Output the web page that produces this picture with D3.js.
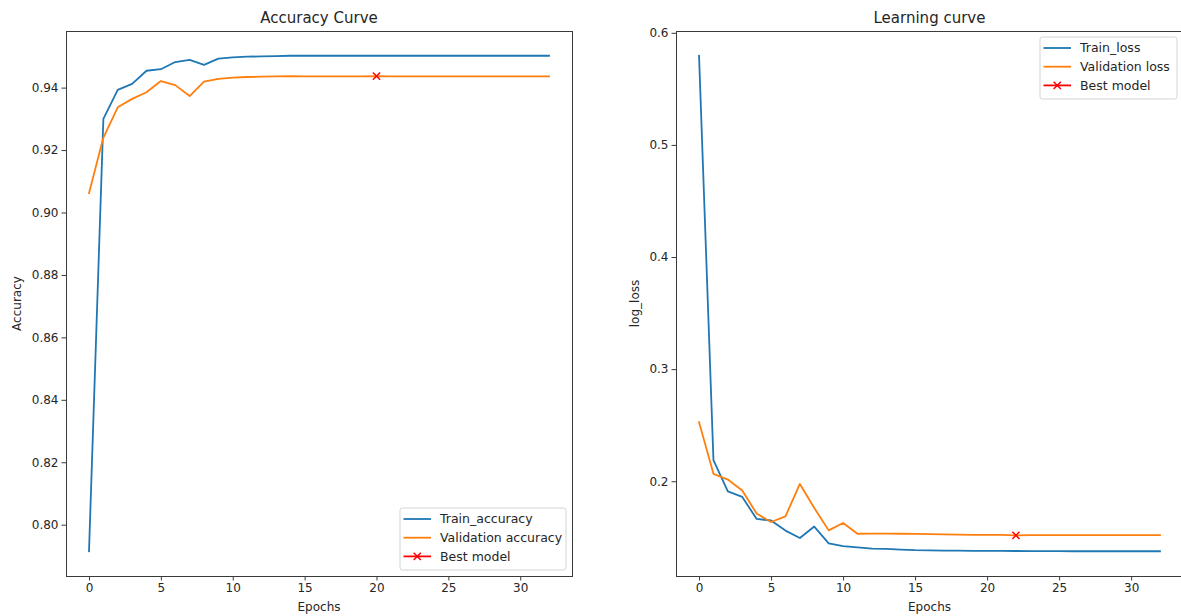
<!DOCTYPE html>
<html>
<head>
<meta charset="utf-8">
<script src="https://cdn.jsdelivr.net/npm/d3@7"></script>
<style>
  html, body { margin: 0; padding: 0; background: #fff; }
  svg { display: block; font-family: "DejaVu Sans", sans-serif; }
</style>
</head>
<body>
<svg id="chart" width="1181" height="616"></svg>
<script>
// ---------- data ----------
const epochs = [0,1,2,3,4,5,6,7,8,9,10,11,12,13,14,15,16,17,18,19,20,21,22,23,24,25,26,27,28,29,30,31,32];

const trainAccuracy = [0.7915, 0.9300, 0.9393, 0.9412, 0.9454, 0.9459, 0.9482, 0.9489, 0.9473, 0.9493,
  0.9497, 0.9499, 0.9500, 0.9501, 0.9502, 0.9502, 0.9502, 0.9502, 0.9502, 0.9502,
  0.9502, 0.9502, 0.9502, 0.9502, 0.9502, 0.9502, 0.9502, 0.9502, 0.9502, 0.9502,
  0.9502, 0.9502, 0.9502];

const valAccuracy = [0.9062, 0.9240, 0.9337, 0.9364, 0.9385, 0.9421, 0.9408, 0.9373, 0.9419, 0.9428,
  0.9432, 0.9434, 0.9435, 0.9436, 0.9437, 0.9436, 0.9436, 0.9436, 0.9436, 0.9436,
  0.9437, 0.9436, 0.9436, 0.9436, 0.9436, 0.9436, 0.9436, 0.9436, 0.9436, 0.9436,
  0.9436, 0.9436, 0.9436];

const trainLoss = [0.5795, 0.2188, 0.1910, 0.1860, 0.1664, 0.1650, 0.1560, 0.1494, 0.1596, 0.1446,
  0.1422, 0.1410, 0.1399, 0.1397, 0.1390, 0.1385, 0.1383, 0.1382, 0.1381, 0.1380,
  0.1380, 0.1379, 0.1378, 0.1377, 0.1377, 0.1377, 0.1376, 0.1376, 0.1376, 0.1376,
  0.1376, 0.1376, 0.1376];

const valLoss = [0.2527, 0.2066, 0.2015, 0.1917, 0.1712, 0.1637, 0.1687, 0.1976, 0.1762, 0.1562,
  0.1628, 0.1532, 0.1533, 0.1533, 0.1532, 0.1531, 0.1528, 0.1526, 0.1524, 0.1522,
  0.1521, 0.1521, 0.1518, 0.1519, 0.1519, 0.1519, 0.1519, 0.1519, 0.1519, 0.1519,
  0.1519, 0.1519, 0.1519];

const bestAccEpoch = 20;
const bestLossEpoch = 22;

const xTicks = [0, 5, 10, 15, 20, 25, 30];
const accTicks = [0.80, 0.82, 0.84, 0.86, 0.88, 0.90, 0.92, 0.94];
const lossTicks = [0.2, 0.3, 0.4, 0.5, 0.6];

// ---------- drawing ----------
const svg = d3.select("#chart");
const C_BLUE = "#1f77b4", C_ORANGE = "#ff7f0e", C_RED = "#ff0000";
const TEXT = "#262626", SPINE = "#3a3a3a";

function padded(vals) {
  const lo = d3.min(vals), hi = d3.max(vals), p = (hi - lo) * 0.05;
  return [lo - p, hi + p];
}

function panel(opt) {
  const g = svg.append("g");
  const { x0, x1, y0, y1 } = opt.box;
  const x = d3.scaleLinear().domain(padded(epochs)).range([x0, x1]);
  const y = d3.scaleLinear().domain(padded(opt.series.flatMap(s => s.values))).range([y1, y0]);

  // axes
  const xAxis = d3.axisBottom(x).tickValues(xTicks).tickSize(4.5).tickPadding(3).tickFormat(d3.format("d"));
  const yAxis = d3.axisLeft(y).tickValues(opt.yTicks).tickSize(4.5).tickPadding(3).tickFormat(d3.format(opt.yFmt));
  const gx = g.append("g").attr("transform", `translate(0,${y1})`).call(xAxis);
  const gy = g.append("g").attr("transform", `translate(${x0},0)`).call(yAxis);
  [gx, gy].forEach(a => {
    a.select(".domain").remove();
    a.selectAll("line").attr("stroke", SPINE).attr("stroke-width", 1);
    a.selectAll("text").attr("fill", TEXT).attr("font-size", 12).attr("font-family", "DejaVu Sans");
  });

  // lines
  const clipId = "clip" + opt.id;
  svg.append("clipPath").attr("id", clipId).append("rect")
    .attr("x", x0).attr("y", y0).attr("width", x1 - x0).attr("height", y1 - y0);
  const line = d3.line().x((d, i) => x(epochs[i])).y(d => y(d));
  opt.series.forEach(s => {
    g.append("path").datum(s.values)
      .attr("clip-path", `url(#${clipId})`)
      .attr("fill", "none").attr("stroke", s.color).attr("stroke-width", 1.8)
      .attr("stroke-linejoin", "round").attr("stroke-linecap", "square")
      .attr("d", line);
  });

  // best marker
  const bx = x(opt.best.epoch), by = y(opt.best.value), m = 3.6;
  g.append("path").attr("d", `M${bx - m},${by - m}L${bx + m},${by + m}M${bx - m},${by + m}L${bx + m},${by - m}`)
    .attr("stroke", C_RED).attr("stroke-width", 1.5).attr("fill", "none");

  // spines
  g.append("rect").attr("x", x0).attr("y", y0).attr("width", x1 - x0).attr("height", y1 - y0)
    .attr("fill", "none").attr("stroke", SPINE).attr("stroke-width", 1).attr("shape-rendering", "crispEdges");

  // titles & labels
  const cx = (x0 + x1) / 2;
  g.append("text").attr("x", cx).attr("y", 23).attr("text-anchor", "middle")
    .attr("font-size", 15).attr("fill", TEXT).text(opt.title);
  g.append("text").attr("x", cx).attr("y", 611).attr("text-anchor", "middle")
    .attr("font-size", 12).attr("fill", TEXT).text("Epochs");
  g.append("text").attr("transform", `translate(${opt.ylabelX},${(y0 + y1) / 2}) rotate(-90)`)
    .attr("text-anchor", "middle").attr("font-size", 12).attr("fill", TEXT).text(opt.ylabel);

  // legend
  const L = opt.legend;
  g.append("rect").attr("x", L.x).attr("y", L.y).attr("width", L.w).attr("height", L.h)
    .attr("rx", 2.5).attr("fill", "#fff").attr("fill-opacity", 0.8)
    .attr("stroke", "#d4d4d4").attr("stroke-width", 1);
  const items = [
    { label: opt.series[0].label, color: C_BLUE },
    { label: opt.series[1].label, color: C_ORANGE },
    { label: "Best model", color: C_RED, marker: true }
  ];
  items.forEach((it, i) => {
    const cy = L.y + 11 + i * 18.7;
    g.append("line").attr("x1", L.x + 3.5).attr("x2", L.x + 31).attr("y1", cy).attr("y2", cy)
      .attr("stroke", it.color).attr("stroke-width", 1.8);
    if (it.marker) {
      const mx = L.x + 17.25;
      g.append("path").attr("d", `M${mx - m},${cy - m}L${mx + m},${cy + m}M${mx - m},${cy + m}L${mx + m},${cy - m}`)
        .attr("stroke", C_RED).attr("stroke-width", 1.5);
    }
    g.append("text").attr("x", L.x + 40).attr("y", cy + 4.4).attr("font-size", 12.5).attr("fill", TEXT).text(it.label);
  });
}

panel({
  id: "acc",
  box: { x0: 66, x1: 572, y0: 31, y1: 576 },
  series: [
    { label: "Train_accuracy", values: trainAccuracy, color: C_BLUE },
    { label: "Validation accuracy", values: valAccuracy, color: C_ORANGE }
  ],
  best: { epoch: bestAccEpoch, value: valAccuracy[bestAccEpoch] },
  yTicks: accTicks, yFmt: ".2f",
  title: "Accuracy Curve", ylabel: "Accuracy", ylabelX: 21,
  legend: { x: 400, y: 508, w: 166, h: 62 }
});

panel({
  id: "loss",
  box: { x0: 676, x1: 1183, y0: 31, y1: 576 },
  series: [
    { label: "Train_loss", values: trainLoss, color: C_BLUE },
    { label: "Validation loss", values: valLoss, color: C_ORANGE }
  ],
  best: { epoch: bestLossEpoch, value: valLoss[bestLossEpoch] },
  yTicks: lossTicks, yFmt: ".1f",
  title: "Learning curve", ylabel: "log_loss", ylabelX: 639,
  legend: { x: 1040, y: 37, w: 137, h: 62 }
});
</script>
</body>
</html>
